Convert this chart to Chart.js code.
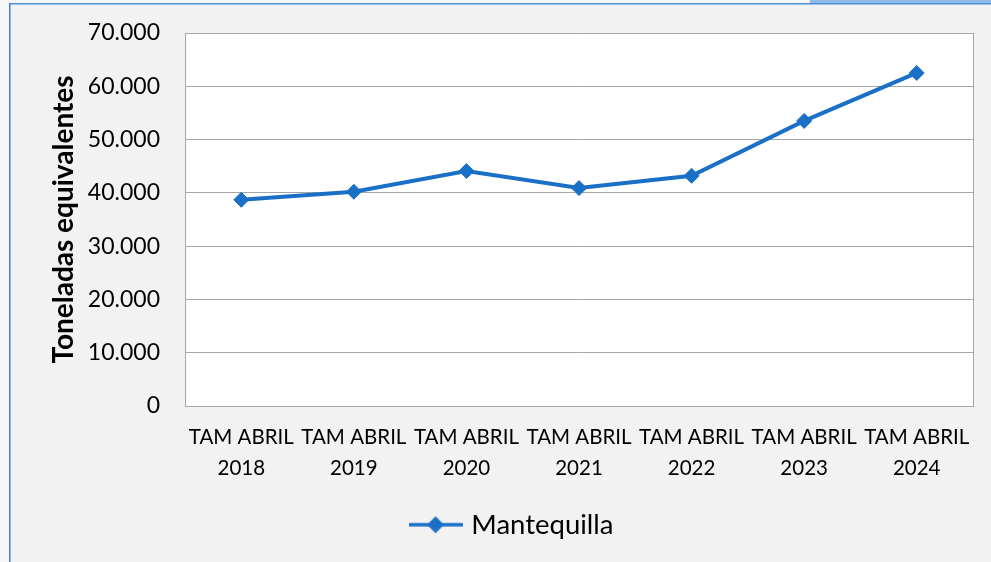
<!DOCTYPE html>
<html><head><meta charset="utf-8">
<script src="https://cdn.jsdelivr.net/npm/chart.js@4/dist/chart.umd.min.js"></script>
<style>html,body{margin:0;padding:0;background:#f7f7f7;overflow:hidden}#wrap{width:991px;height:562px;position:relative}</style>
</head><body><div id="wrap"><canvas id="c" width="991" height="562"></canvas></div>
<script>
const categories = [["TAM ABRIL","2018"],["TAM ABRIL","2019"],["TAM ABRIL","2020"],["TAM ABRIL","2021"],["TAM ABRIL","2022"],["TAM ABRIL","2023"],["TAM ABRIL","2024"]];
const seriesName = "Mantequilla";
const mantequilla = [38700, 40200, 44100, 40900, 43200, 53500, 62500];
const yTickValues = [0, 10000, 20000, 30000, 40000, 50000, 60000, 70000];
const yTitle = "Toneladas equivalentes";

const BLUE = '#1a6fc6';
const FONT = 'Lato, "Open Sans", sans-serif';

function fmt(v){ return String(v).replace(/\B(?=(\d{3})+(?!\d))/g, '.'); }

// legend symbol: line with diamond
const sym = document.createElement('canvas');
sym.width = 54; sym.height = 18;
(function(){
  const g = sym.getContext('2d');
  g.strokeStyle = BLUE; g.lineWidth = 3.5;
  g.beginPath(); g.moveTo(0,9); g.lineTo(54,9); g.stroke();
  g.fillStyle = BLUE;
  g.beginPath(); g.moveTo(27,0.5); g.lineTo(35.5,9); g.lineTo(27,17.5); g.lineTo(18.5,9); g.closePath(); g.fill();
})();

const bgPlugin = {
  id: 'bg',
  beforeDraw(chart){
    const ctx = chart.ctx;
    ctx.save();
    ctx.fillStyle = '#f7f7f7'; ctx.fillRect(0,0,991,562);
    ctx.fillStyle = '#f2f2f2'; ctx.fillRect(10,4,981,558);
    ctx.fillStyle = '#8fb9e6'; ctx.fillRect(810,0,181,3);
    ctx.fillStyle = '#4f8fd6'; ctx.fillRect(9,3,982,1.5);
    ctx.fillStyle = '#3f7fcf'; ctx.fillRect(9,3,1.5,559);
    const a = chart.chartArea;
    ctx.fillStyle = '#ffffff'; ctx.fillRect(a.left, a.top, a.right-a.left, a.bottom-a.top);
    ctx.restore();
  },
  beforeDatasetsDraw(chart){
    const ctx = chart.ctx, a = chart.chartArea;
    ctx.save();
    ctx.strokeStyle = '#a6a6a6'; ctx.lineWidth = 1;
    ctx.beginPath(); ctx.moveTo(Math.round(a.right)+0.5, a.top); ctx.lineTo(Math.round(a.right)+0.5, a.bottom); ctx.stroke();
    ctx.restore();
  }
};

new Chart(document.getElementById('c'), {
  type: 'line',
  data: {
    labels: categories,
    datasets: [{
      label: seriesName,
      data: mantequilla,
      borderColor: BLUE,
      backgroundColor: BLUE,
      borderWidth: 4,
      pointStyle: 'rectRot',
      pointRadius: 7.5,
      pointBorderWidth: 1,
      pointBackgroundColor: BLUE,
      pointBorderColor: BLUE,
      tension: 0,
      fill: false
    }]
  },
  options: {
    responsive: false,
    animation: false,
    events: [],
    layout: { padding: { left: 36, right: 0, top: 33, bottom: 13.5 } },
    plugins: {
      tooltip: { enabled: false },
      legend: {
        position: 'bottom',
        labels: {
          usePointStyle: true,
          pointStyleWidth: 44,
          boxHeight: 16,
          padding: 10,
          color: '#000',
          font: { family: FONT, size: 27.5 },
          generateLabels(chart){
            return [{ text: seriesName, pointStyle: sym, fillStyle: BLUE, strokeStyle: BLUE, lineWidth: 0, hidden: false, datasetIndex: 0, fontColor: '#000' }];
          }
        }
      }
    },
    scales: {
      x: {
        offset: true,
        grid: { display: false, drawTicks: false },
        border: { display: true, color: '#a6a6a6', width: 1 },
        ticks: { color: '#000', padding: 16, maxRotation: 0, autoSkip: false, font: { family: FONT, size: 20.5, lineHeight: 1.5 } },
        afterFit(s){ s.height = 95; s.paddingTop = 0; s.paddingBottom = 0; }
      },
      y: {
        min: 0, max: 70000,
        afterBuildTicks(s){ s.ticks = yTickValues.map(v => ({ value: v })); },
        grid: { color: '#a6a6a6', lineWidth: 1, drawTicks: false },
        border: { display: true, color: '#a6a6a6', width: 1 },
        ticks: { color: '#000', padding: 25, font: { family: FONT, size: 23 }, callback: v => fmt(v) },
        title: { display: true, text: yTitle, color: '#000', padding: { top: 11, bottom: 0 }, font: { family: FONT, size: 28, weight: 'bold' } },
        afterFit(s){ s.width = 149; s.paddingTop = 0; s.paddingBottom = 0; }
      },
      y2: {
        position: 'right',
        display: true,
        grid: { display: false, drawTicks: false },
        border: { display: false },
        ticks: { display: false },
        afterFit(s){ s.width = 18; s.paddingTop = 0; s.paddingBottom = 0; }
      }
    }
  },
  plugins: [bgPlugin]
});
</script></body></html>
